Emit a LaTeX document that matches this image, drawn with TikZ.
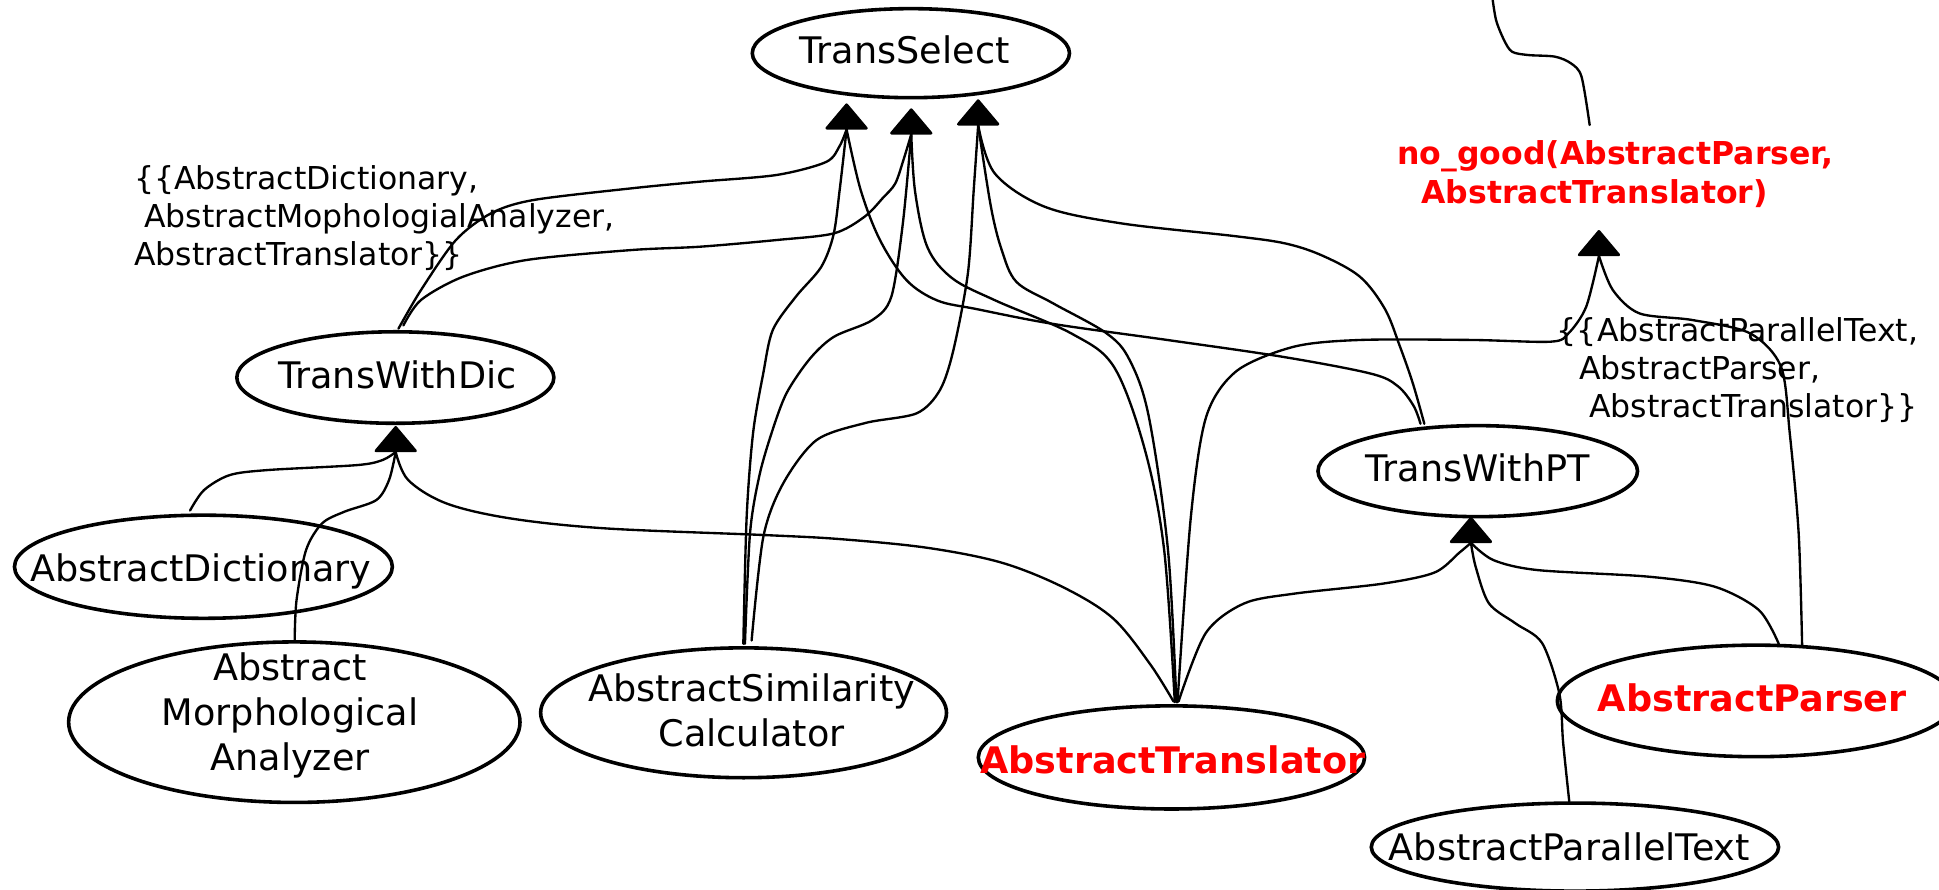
\documentclass[tikz,border=0pt]{standalone}
\usepackage{fontspec}
\setmainfont{DejaVu Sans}
\usetikzlibrary{shapes.geometric,calc}
\begin{document}
\begin{tikzpicture}[x=1pt,y=-1pt,
  ell/.style={draw, ellipse, line width=2.9pt, inner sep=0pt, outer sep=0pt},
  nt/.style={inner sep=0pt, outer sep=0pt, anchor=base, font=\fontsize{29.6}{36.4}\selectfont},
  rt/.style={inner sep=0pt, outer sep=0pt, anchor=base, text=red, font=\fontsize{29.6}{36.4}\selectfont\bfseries},
  lbl/.style={inner sep=0pt, outer sep=0pt, anchor=base west, font=\fontsize{25.5}{31}\selectfont},
  edge/.style={line width=1.9pt, line cap=round},
  ahd/.style={fill=black, draw=black, line width=2.2pt, line join=round},
]
\useasboundingbox (0,0) rectangle (1568,719.7);
\clip (0,0) rectangle (1568,719.7);

% ---------- nodes (ellipses) ----------
\node[ell, minimum width=256.5, minimum height=72]    (TS)   at (736.6,43)    {};
\node[ell, minimum width=256.4, minimum height=74]    (TWD)  at (319.7,305.3) {};
\node[ell, minimum width=305.6, minimum height=83.4]  (AD)   at (164.5,458.3) {};
\node[ell, minimum width=365,   minimum height=129.8] (MA)   at (238,584)     {};
\node[ell, minimum width=328.2, minimum height=105]   (SC)   at (601.3,576.4) {};
\node[ell, minimum width=312.4, minimum height=83.4]  (AT)   at (947.3,612.5) {};
\node[ell, minimum width=258.4, minimum height=73.6]  (TWPT) at (1195,381)    {};
\node[ell, minimum width=321.2, minimum height=90.2]  (AP)   at (1420,566.8)  {};
\node[ell, minimum width=329.4, minimum height=71.2]  (PT)   at (1273.6,685)  {};

% ---------- node texts ----------
\node[nt] (TSt)   at (731.6,51.2)  {TransSelect};
\node[nt] (TWDt)  at (321.4,314.1) {TransWithDic};
\node[nt] (ADt)   at (162.4,470.4) {AbstractDictionary};
\node[nt] (MAt)   at (234.6,550)   {\begin{tabular}[t]{@{}c@{}}Abstract\\Morphological\\Analyzer\end{tabular}};
\node[nt] (SCt)   at (607.8,567.5) {\begin{tabular}[t]{@{}c@{}}AbstractSimilarity\\Calculator\end{tabular}};
\node[rt] (ATt)   at (948.4,625.5) {AbstractTranslator};
\node[nt] (TWPTt) at (1195,389.6)  {TransWithPT};
\node[rt] (APt)   at (1417,575.6)  {AbstractParser};
\node[nt] (PTt)   at (1269.1,695.5) {AbstractParallelText};

% ---------- labels ----------
\node[lbl] (LL) at (108.5,153) {\begin{tabular}[t]{@{}l@{}}\{\{AbstractDictionary,\\\hspace*{8pt}AbstractMophologialAnalyzer,\\AbstractTranslator\}\}\end{tabular}};
\node[lbl] (RL) at (1259,276) {\begin{tabular}[t]{@{}l@{}}\{\{AbstractParallelText,\\\hspace*{18pt}AbstractParser,\\\hspace*{26pt}AbstractTranslator\}\}\end{tabular}};
\node[lbl, text=red, font=\fontsize{25.5}{31}\selectfont\bfseries] (NG) at (1130,133.4) {\begin{tabular}[t]{@{}l@{}}no\_good(AbstractParser,\\\hspace*{19.5pt}AbstractTranslator)\end{tabular}};

% ---------- arrowhead coordinates ----------
\coordinate (A1t) at (684.6,83.6);  \coordinate (A1) at (684.6,104.6);
\coordinate (A2t) at (736.9,87.6);  \coordinate (A2) at (736.9,108.6);
\coordinate (A3t) at (791,80.3);    \coordinate (A3) at (791,101.3);
\coordinate (Bt)  at (320,344.5);   \coordinate (B)  at (320,365.5);
\coordinate (Ct)  at (1189.5,418);  \coordinate (C)  at (1189.5,439);
\coordinate (Dt)  at (1293,186);    \coordinate (D)  at (1293,207);
\coordinate (top) at (1206.7,-3);

% ---------- ports ----------
\coordinate (twd1) at ($(TWD.north)+(2.5,-2.5)$);
\coordinate (twd2) at ($(TWD.north)+(6.5,-5.1)$);
\coordinate (ad1)  at ($(AD.north)+(-10.8,-3.8)$);
\coordinate (ma1)  at ($(MA.north)+(0.3,-1.7)$);
\coordinate (sc1)  at ($(SC.north)+(-0.2,-3.3)$);
\coordinate (sc2)  at ($(SC.north)+(1.1,-3.3)$);
\coordinate (sc3)  at ($(SC.north)+(6.5,-6)$);
\coordinate (at1)  at ($(AT.north)+(2.7,-3)$);
\coordinate (at2)  at ($(AT.north)+(4,-3)$);
\coordinate (at3)  at ($(AT.north)+(1.7,-3.5)$);
\coordinate (at4)  at ($(AT.north)+(5.7,-3.5)$);
\coordinate (at5)  at ($(AT.north)+(4.9,-3)$);
\coordinate (tw1)  at ($(TWPT.north)+(-46.3,-1.5)$);
\coordinate (tw2)  at ($(TWPT.north)+(-43.2,-1.5)$);
\coordinate (ap1)  at ($(AP.north)+(18.4,-1.1)$);
\coordinate (ap2)  at ($(AP.north)+(37.3,0.1)$);
\coordinate (pt1)  at ($(PT.north)+(-4.6,-1.2)$);
\coordinate (ng1)  at ($(NG.base west)+(155.5,-32.3)$);

% ---------- connectors ----------
\begin{scope}[edge]
\draw plot[smooth, tension=0.5] coordinates {(twd1) (340.4,234.6) (368.7,194.1) (397.1,172.5) (431.1,161.8) (510.6,152.3) (566.1,146.9) (628,141.5) (668,131) (679,118) (A1)};
\draw plot[smooth, tension=0.5] coordinates {(twd2) (340.4,242.6) (374.4,223.8) (425.5,210.3) (510.6,202.2) (566.1,199.5) (628,194.1) (674.4,188.7) (699.2,175.2) (714,160) (724,148.3) (731,128) (A2)};
\draw plot[smooth, tension=0.5] coordinates {(sc1) (603.8,417.8) (609,350) (617.2,302) (624.9,266.9) (643.5,240) (664,216) (674,190) (679,153.7) (A1)};
\draw plot[smooth, tension=0.5] coordinates {(sc2) (606.5,431.3) (614,385) (624,350) (636,318) (655,290) (674.4,272.3) (705.4,258.8) (720.8,239.9) (730.1,180.6) (A2)};
\draw plot[smooth, tension=0.5] coordinates {(sc3) (617.3,434) (633.4,390.8) (660.4,355.8) (700,342) (741.3,334.2) (760.1,315.4) (771,283) (782.7,221) (787.4,153.7) (A3)};
\draw plot[smooth, tension=0.55] coordinates {(at1) (941.4,444.8) (925.9,364) (901,297) (867,270) (805,243) (770,225) (750,200) (740,155) (A2)};
\draw plot[smooth, tension=0.55] coordinates {(at2) (944.5,444.8) (929,337) (913.5,291.2) (894.9,269.6) (851.6,245.3) (822,228) (810,202) (801.3,167.1) (A3)};
\draw plot[smooth, tension=0.55] coordinates {(tw1) (1143,328) (1130,312) (1108,302) (1037,288.5) (944.5,275) (852,262) (790,250) (758,243) (733,226.5) (711.6,194.1) (696,153.7) (A1)};
\draw plot[smooth, tension=0.55] coordinates {(tw2) (1142.5,310) (1132,280) (1120,250) (1100,224) (1070,207) (1040,197) (999,191) (906.5,180.6) (844.6,167.1) (804.4,140.2) (A3)};
\draw plot[smooth, tension=0.55] coordinates {(at3) (930,537) (900,500) (860,475) (810,455) (750,443) (680,436) (618.8,432.7) (489.9,427.3) (412.6,419.2) (361,407.1) (330.1,388.2) (B)};
\draw plot[smooth, tension=0.5] coordinates {(ad1) (165,396.3) (185.7,384.2) (216.6,380.1) (288.8,376.1) (309.4,372) (B)};
\draw plot[smooth, tension=0.5] coordinates {(ma1) (239.8,485.3) (247.5,444.8) (260.4,423.3) (278.5,413.8) (304.3,404.4) (314.6,388.2) (B)};
\draw plot[smooth, tension=0.5] coordinates {(at4) (975,512) (1006,488) (1047,480) (1118,472) (1160,463) (1180,447) (C)};
\draw plot[smooth, tension=0.5] coordinates {(pt1) (1264,600) (1261,561) (1247,520) (1225.5,504.1) (1204,487.9) (1193.3,458.3) (C)};
\draw plot[smooth, tension=0.5] coordinates {(ap1) (1422.3,493.3) (1386.5,474.4) (1332.8,466.3) (1243.4,461) (1207.6,452.9) (C)};
\draw plot[smooth, tension=0.5] coordinates {(at5) (963,417.9) (975.4,337) (1000,300) (1046.6,280.3) (1100.3,274.9) (1189.7,274.9) (1254.1,276.3) (1268.4,269.5) (1282.7,248) (D)};
\draw plot[smooth, tension=0.5] coordinates {(ap2) (1454.5,431.3) (1447.3,350.4) (1440.2,296.5) (1415.1,269.5) (1368.6,258.8) (1325.7,253.4) (1304.2,234.5) (D)};
\draw plot[smooth, tension=0.5] coordinates {(ng1) (1278.9,62) (1270.3,51.2) (1257.3,45.8) (1235.7,44.5) (1222.7,41.8) (1216.2,32.3) (1209.8,16.2) (top)};
\end{scope}

% ---------- arrowheads ----------
\foreach \t in {A1t,A2t,A3t,Bt,Ct,Dt}
  \filldraw[ahd] ($(\t)+(0,1.1)$) -- ++(-16,19) -- ++(32,0) -- cycle;
\end{tikzpicture}
\end{document}
